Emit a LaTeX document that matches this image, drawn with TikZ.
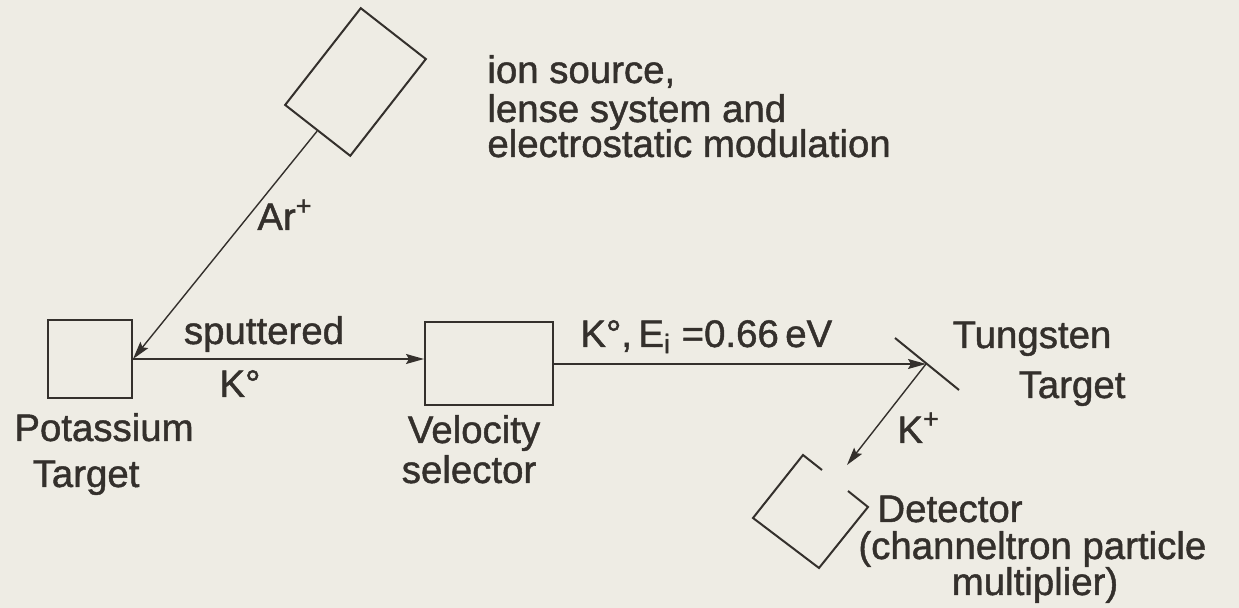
\documentclass[tikz,border=0pt]{standalone}
\usepackage{fontspec}
\setmainfont{Liberation Sans}[FakeBold=1.2]
\usetikzlibrary{arrows.meta}
\definecolor{ink}{RGB}{52,48,44}
\definecolor{paper}{RGB}{238,236,228}
\tikzset{
  boxline/.style={draw=ink, line width=1pt},
  beam/.style={draw=ink, line width=0.7pt, -{Stealth[length=9pt,width=5pt,inset=1.5pt]}},
  lbl/.style={text=ink, inner sep=0pt, font=\fontsize{19.2}{22}\selectfont},
}
\begin{document}
\begin{tikzpicture}[x=0.5pt,y=-0.5pt]
\fill[paper] (0,0) rectangle (1239,608);
\useasboundingbox (0,0) rectangle (1239,608);

% boxes
\node[boxline, rectangle, minimum width=41.3pt, minimum height=61.4pt, rotate=-38] (ion) at (355.5,82) {};
\node[boxline, rectangle, minimum width=42pt, minimum height=39pt] (pot) at (90,359) {};
\node[boxline, rectangle, minimum width=64pt, minimum height=41.5pt] (vel) at (489,363.5) {};

% tungsten target
\coordinate (w1) at (895,338);
\coordinate (w2) at (959,390);
\coordinate (wt) at (926,364);
\draw[ink, line width=1pt] (w1) -- (w2);

% detector (open rectangle)
\coordinate (dT) at (803,455);
\coordinate (dL) at (753,518);
\coordinate (dB) at (819,568);
\coordinate (dR) at (868,507);
\coordinate (dg1) at (822,470);
\coordinate (dg2) at (848,491);
\coordinate (din) at (847,465);
\draw[ink, line width=1pt] (dg1) -- (dT) -- (dL) -- (dB) -- (dR) -- (dg2);

% beams
\draw[beam] (ion.south) -- (pot.east);
\draw[beam] (pot.east) -- (pot.east -| vel.west);
\draw[beam] (vel.east |- wt) -- (wt);
\draw[beam] (wt) -- (din);

% labels
\node[lbl, anchor=base west] (t1) at (487,83) {ion source,};
\node[lbl, anchor=base west] (t2) at (487,122) {lense system and};
\node[lbl, anchor=base west] (t3) at (487,157) {electrostatic modulation};
\node[lbl, anchor=base west] (ar) at (257,230) {Ar\textsuperscript{+}};
\node[lbl, anchor=base] (sp) at (264,344) {sputtered};
\node[lbl, anchor=base] (k0) at (240,397) {K°};
\node[lbl, anchor=base] (pt1) at (104,441) {Potassium};
\node[lbl, anchor=base] (pt2) at (86,487) {Target};
\node[lbl, anchor=base] (vs1) at (474,443) {Velocity};
\node[lbl, anchor=base] (vs2) at (469,483) {selector};
\node[lbl, anchor=base west] (ke) at (580,347) {K°,\,E\textsubscript{i} =0.66\,eV};
\node[lbl, anchor=base] (tg1) at (1032,348) {Tungsten};
\node[lbl, anchor=base] (tg2) at (1072,398) {Target};
\node[lbl, anchor=base west] (kp) at (897,443) {K\textsuperscript{+}};
\node[lbl, anchor=base west] (d1) at (877,522) {Detector};
\node[lbl, anchor=base west] (d2) at (858,559) {(channeltron particle};
\node[lbl, anchor=base] (d3) at (1035,595) {multiplier)};
\end{tikzpicture}
\end{document}
